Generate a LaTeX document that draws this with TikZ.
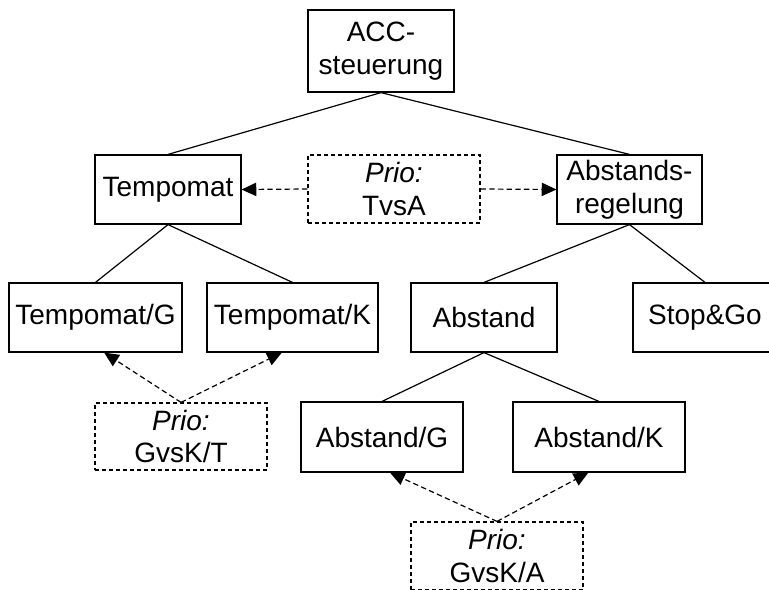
\documentclass[tikz,border=0pt]{standalone}
\usepackage{fontspec}
\setmainfont{Liberation Sans}
\usetikzlibrary{arrows.meta}
\tikzset{
  blk/.style={draw, align=center, inner sep=0pt, minimum width=#1,
    minimum height=51.75pt, font=\fontsize{21}{24.5}\selectfont},
  prio/.style={blk=#1, dash pattern=on 3pt off 2.25pt},
  prioarr/.style={dash pattern=on 4pt off 2.5pt, -{Triangle[length=11pt,width=10pt]}}
}
\begin{document}
\begin{tikzpicture}[x=0.75pt, y=-0.75pt, line width=0.9pt]
\useasboundingbox (0,0) rectangle (769,590);
\clip (0,0) rectangle (769,590);
% wurzel
\node[blk=109.5pt, minimum height=61.5pt] (acc) at (381, 51) {ACC-\\steuerung};
% ebene 1
\node[blk=109.5pt] (temp) at (168, 189.5) {Tempomat};
\node[prio=129pt, minimum height=51pt] (tvsa) at (394, 189) {\textit{Prio:}\\TvsA};
\node[blk=108.75pt] (absreg) at (629.5, 189.5) {Abstands-\\regelung};
% ebene 2
\node[blk=129.75pt] (tempg) at (95.5, 317.5) {Tempomat/G};
\node[blk=128.25pt] (tempk) at (292.5, 317.5) {Tempomat/K};
\node[blk=109.5pt] (abst) at (484, 317.5) {Abstand};
\node[blk=108pt] (stopgo) at (705, 317.5) {Stop\&Go};
% ebene 3
\node[prio=129pt, minimum height=50.25pt] (gvskt) at (181, 436.5) {\textit{Prio:}\\GvsK/T};
\node[blk=121.5pt, minimum height=52.5pt] (absg) at (382, 437) {Abstand/G};
\node[blk=129pt, minimum height=52.5pt] (absk) at (599, 437) {Abstand/K};
\node[prio=129pt, minimum height=51pt] (gvska) at (497, 556) {\textit{Prio:}\\GvsK/A};
% baum
\draw (acc.south) -- (temp.north);
\draw (acc.south) -- (absreg.north);
\draw (temp.south) -- (tempg.north);
\draw (temp.south) -- (tempk.north);
\draw (absreg.south) -- (abst.north);
\draw (absreg.south) -- (stopgo.north);
\draw (abst.south) -- (absg.north);
\draw (abst.south) -- (absk.north);
% prioritaeten
\draw[prioarr] (tvsa.west) -- (temp.east);
\draw[prioarr] (tvsa.east) -- (absreg.west);
\draw[prioarr] (gvskt.north) -- ([xshift=6.5pt]tempg.south);
\draw[prioarr] (gvskt.north) -- ([xshift=-8pt]tempk.south);
\draw[prioarr] (gvska.north) -- ([xshift=6pt]absg.south);
\draw[prioarr] (gvska.north) -- ([xshift=-8pt]absk.south);
\end{tikzpicture}
\end{document}
